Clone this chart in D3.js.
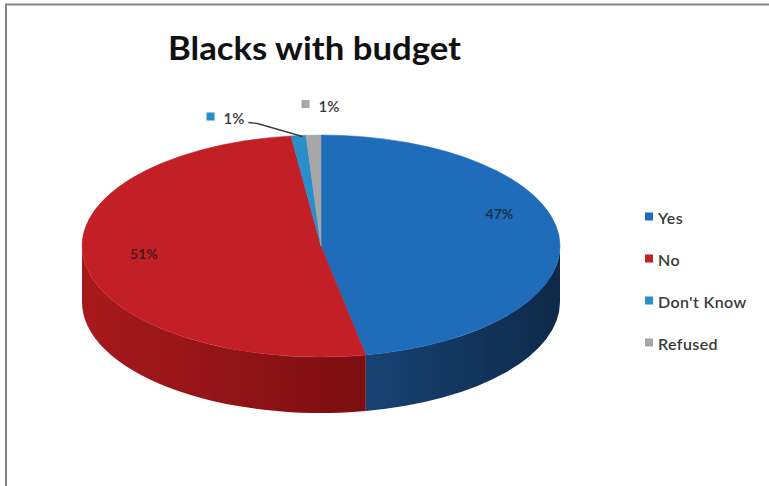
<!DOCTYPE html>
<html>
<head>
<meta charset="utf-8">
<script src="https://cdn.jsdelivr.net/npm/d3@7"></script>
<style>
  html, body { margin: 0; padding: 0; background: #fff; }
  svg { display: block; }
</style>
</head>
<body>
<svg id="chart" width="769" height="486"></svg>
<script>
// Survey answers for the "Blacks with budget" question
const categories = ["Yes", "No", "Don't Know", "Refused"];
const values = [47, 51, 1, 1];
const valueLabels = ["47%", "51%", "1%", "1%"];

// Face colours per answer (top face, then side wall light → dark)
const topColors = ["#1f6cbb", "#c21f27", "#2a8ecb", "#a7a7a7"];
const sideLight = ["#174170", "#a8191d", "#1f6a99", "#808080"];
const sideDark  = ["#0e2949", "#7a0e10", "#154a6c", "#5c5c5c"];

const W = 769, H = 486;
const svg = d3.select("#chart");

// frame
svg.append("rect")
  .attr("x", 6).attr("y", 4.5)
  .attr("width", W).attr("height", H)
  .attr("fill", "#fff")
  .attr("stroke", "#858585")
  .attr("stroke-width", 2);

// title
svg.append("text")
  .attr("x", 168).attr("y", 60)
  .attr("font-family", "Lato, 'Open Sans', sans-serif")
  .attr("font-weight", 700)
  .attr("font-size", 33)
  .attr("fill", "#111")
  .attr("textLength", 293)
  .attr("lengthAdjust", "spacingAndGlyphs")
  .text("Blacks with budget");

// 3D pie geometry
const cx = 321, cy = 246, rx = 239, ry = 111, depth = 56;
const pt = (a, dy = 0) => [cx + rx * Math.sin(a), cy - ry * Math.cos(a) + dy];

const pie = d3.pie().sort(null).value(d => d.value);
const arcs = pie(categories.map((c, i) => ({ cat: c, value: values[i], i })));

const defs = svg.append("defs");
arcs.forEach(d => {
  const g = defs.append("linearGradient")
    .attr("id", "side" + d.index)
    .attr("gradientUnits", "userSpaceOnUse")
    .attr("x1", cx - rx).attr("x2", cx + rx)
    .attr("y1", 0).attr("y2", 0);
  const i = d.data.i;
  if (i === 0) {
    g.append("stop").attr("offset", 0.62).attr("stop-color", sideLight[i]);
    g.append("stop").attr("offset", 1).attr("stop-color", sideDark[i]);
  } else {
    g.append("stop").attr("offset", 0).attr("stop-color", sideLight[i]);
    g.append("stop").attr("offset", 0.62).attr("stop-color", sideDark[i]);
  }
});

// side walls: only the front half of the rim is visible
const sideG = svg.append("g");
arcs.forEach(d => {
  const s = Math.max(d.startAngle, Math.PI / 2);
  const e = Math.min(d.endAngle, 3 * Math.PI / 2);
  if (e <= s) return;
  const p0 = pt(s), p1 = pt(e), q1 = pt(e, depth), q0 = pt(s, depth);
  const large = (e - s) > Math.PI ? 1 : 0;
  const path = `M${p0}A${rx},${ry} 0 ${large} 1 ${p1}L${q1}A${rx},${ry} 0 ${large} 0 ${q0}Z`;
  sideG.append("path").attr("d", path).attr("fill", `url(#side${d.index})`);
});

// top faces
const topG = svg.append("g");
arcs.forEach(d => {
  const p0 = pt(d.startAngle), p1 = pt(d.endAngle);
  const large = (d.endAngle - d.startAngle) > Math.PI ? 1 : 0;
  const path = `M${cx},${cy}L${p0}A${rx},${ry} 0 ${large} 1 ${p1}Z`;
  topG.append("path").attr("d", path)
    .attr("fill", topColors[d.data.i])
    .attr("stroke", topColors[d.data.i]).attr("stroke-width", 0.5);
});

// inside labels for the two large slices (plate tilts slightly toward the right)
const labelFont = "Lato, 'Open Sans', sans-serif";
arcs.filter(d => d.value >= 10).forEach(d => {
  const m = (d.startAngle + d.endAngle) / 2;
  const x = cx + rx * 0.75 * Math.sin(m);
  const y = cy - ry * 0.75 * Math.cos(m) - 15 - 10 * Math.sin(m);
  svg.append("text")
    .attr("x", x).attr("y", y)
    .attr("text-anchor", "middle").attr("dominant-baseline", "central")
    .attr("font-family", labelFont).attr("font-weight", 700)
    .attr("font-size", 14)
    .attr("fill", "#151515").attr("fill-opacity", 0.7)
    .text(valueLabels[d.data.i]);
});

// outside labels for the thin slices, each with a legend key
const outside = arcs.filter(d => d.value < 10);
const outOffsets = [[-62, -17], [18, -29]];
outside.forEach((d, k) => {
  const m = (d.startAngle + d.endAngle) / 2;
  const [px, py] = pt(m);
  const lx = px + outOffsets[k][0], ly = py + outOffsets[k][1];
  svg.append("rect")
    .attr("x", lx - 30).attr("y", ly - 6)
    .attr("width", 8).attr("height", 8)
    .attr("fill", topColors[d.data.i]);
  const t = svg.append("text")
    .attr("x", lx - 13).attr("y", ly)
    .attr("dominant-baseline", "central")
    .attr("font-family", labelFont).attr("font-size", 15)
    .attr("font-weight", 600)
    .attr("fill", "#3a3a3a")
    .text(valueLabels[d.data.i]);
  if (k === 0) {
    const tx = lx - 13 + t.node().getComputedTextLength() + 4;
    svg.append("path")
      .attr("d", `M${tx},${ly + 4}L${tx + 9},${ly + 5}L${px + 4},${py + 1}`)
      .attr("fill", "none")
      .attr("stroke", "#3c3c3c").attr("stroke-width", 1.4);
  }
});

// legend
const legend = svg.append("g").attr("transform", "translate(645,217)");
categories.forEach((c, i) => {
  const row = legend.append("g").attr("transform", `translate(0,${i * 42})`);
  row.append("rect").attr("x", 0).attr("y", -4.5)
    .attr("width", 8).attr("height", 8)
    .attr("fill", topColors[i]);
  row.append("text")
    .attr("x", 13).attr("y", 0)
    .attr("dominant-baseline", "central")
    .attr("font-family", labelFont).attr("font-size", 16)
    .attr("font-weight", 600)
    .attr("letter-spacing", 0.4)
    .attr("fill", "#3a3a3a")
    .text(c);
});
</script>
</body>
</html>
